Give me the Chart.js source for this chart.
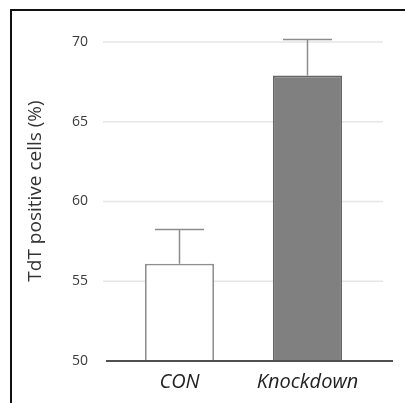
<!DOCTYPE html>
<html>
<head>
<meta charset="utf-8">
<script src="https://cdn.jsdelivr.net/npm/chart.js@4"></script>
<style>
  html, body { margin: 0; padding: 0; background: #fff; }
  #wrap { position: relative; width: 405px; height: 403px; overflow: hidden; }
  #cadre { position: absolute; left: 10px; top: 9px; width: 420px; height: 420px;
           border-left: 2px solid #111; border-top: 2px solid #111; pointer-events: none; }
</style>
</head>
<body>
<div id="wrap">
  <canvas id="grafico" width="405" height="403"></canvas>
  <div id="cadre"></div>
</div>
<script>
// valores
const categorias = ['CON', 'Knockdown'];
const medias = [56.1, 67.9];
const errosSup = [2.15, 2.25];
const ticksY = [50, 55, 60, 65, 70];
const tituloY = 'TdT positive cells (%)';

const FONTE = '"Open Sans", "Noto Sans", sans-serif';

// grade, barras de erro, eixo e título do eixo Y
const decoracao = {
    id: 'decoracao',
    beforeDatasetsDraw(chart) {
        const { ctx, chartArea } = chart;
        const y = chart.scales.y;
        ctx.save();
        ctx.strokeStyle = '#e6e6e6';
        ctx.lineWidth = 1.5;
        ticksY.slice(1).forEach(v => {
            const py = y.getPixelForValue(v);
            ctx.beginPath();
            ctx.moveTo(chartArea.left - 12.5, py);
            ctx.lineTo(chartArea.right + 11.5, py);
            ctx.stroke();
        });
        ctx.restore();
    },
    afterDatasetsDraw(chart) {
        const { ctx, chartArea } = chart;
        const y = chart.scales.y;
        const meta = chart.getDatasetMeta(0);
        ctx.save();
        ctx.strokeStyle = '#8c8c8c';
        ctx.lineWidth = 1.5;
        meta.data.forEach((barra, i) => {
            const topo = y.getPixelForValue(medias[i] + errosSup[i]);
            ctx.beginPath();
            ctx.moveTo(barra.x, barra.y);
            ctx.lineTo(barra.x, topo);
            ctx.moveTo(barra.x - 24.5, topo);
            ctx.lineTo(barra.x + 24.5, topo);
            ctx.stroke();
        });
        // linha do eixo X
        const base = y.getPixelForValue(ticksY[0]);
        ctx.strokeStyle = '#505050';
        ctx.lineWidth = 2;
        ctx.beginPath();
        ctx.moveTo(chartArea.left - 9.5, base);
        ctx.lineTo(chartArea.right + 21.5, base);
        ctx.stroke();

        // título vertical
        ctx.fillStyle = '#333';
        ctx.font = '19px ' + FONTE;
        ctx.textAlign = 'center';
        ctx.textBaseline = 'middle';
        ctx.translate(36, 191);
        ctx.rotate(-Math.PI / 2);
        ctx.fillText(tituloY, 0, 0);
        ctx.restore();
    }
};

new Chart(document.getElementById('grafico'), {
    type: 'bar',
    plugins: [decoracao],
    data: {
        labels: categorias,
        datasets: [{
            data: medias,
            backgroundColor: ['#ffffff', '#808080'],
            borderColor: ['#8f8f8f', '#666666'],
            borderWidth: 1.8,
            categoryPercentage: 1,
            barPercentage: 0.54
        }]
    },
    options: {
        responsive: false,
        animation: false,
        layout: { padding: { top: 42, right: 33.5, left: 0, bottom: 0 } },
        plugins: { legend: { display: false }, tooltip: { enabled: false } },
        scales: {
            x: {
                grid: { display: false, drawTicks: false },
                border: { display: false },
                ticks: {
                    padding: 9,
                    color: '#222',
                    font: { family: FONTE, size: 20, style: 'italic' }
                },
                afterFit: s => { s.height = 42; }
            },
            y: {
                min: 50,
                max: 70,
                grid: { display: false, drawTicks: false },
                border: { display: false },
                ticks: {
                    stepSize: 5,
                    padding: 27.5,
                    color: '#3a3a3a',
                    font: { family: FONTE, size: 14 }
                },
                afterFit: s => { s.width = 115.5; }
            }
        }
    }
});
</script>
</body>
</html>
